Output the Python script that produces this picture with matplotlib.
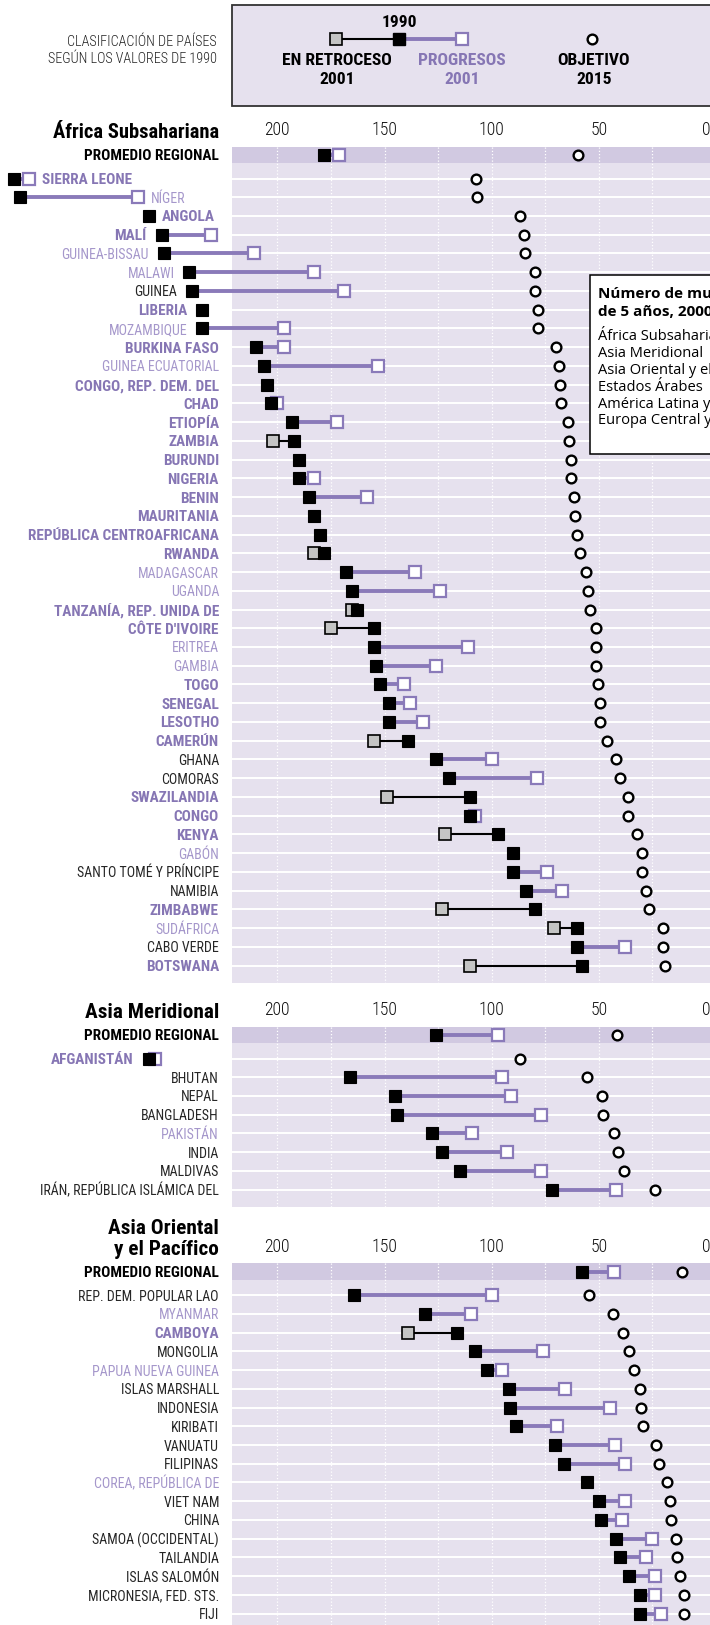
import matplotlib
matplotlib.use("Agg")
import matplotlib.pyplot as plt
from matplotlib import font_manager as fm
from matplotlib.patches import Rectangle

# ---------------- DATA ----------------
ssa_names = ["SIERRA LEONE", "NÍGER", "ANGOLA", "MALÍ", "GUINEA-BISSAU", "MALAWI", "GUINEA",
             "LIBERIA", "MOZAMBIQUE", "BURKINA FASO", "GUINEA ECUATORIAL", "CONGO, REP. DEM. DEL",
             "CHAD", "ETIOPÍA", "ZAMBIA", "BURUNDI", "NIGERIA", "BENIN", "MAURITANIA",
             "REPÚBLICA CENTROAFRICANA", "RWANDA", "MADAGASCAR", "UGANDA", "TANZANÍA, REP. UNIDA DE",
             "CÔTE D'IVOIRE", "ERITREA", "GAMBIA", "TOGO", "SENEGAL", "LESOTHO", "CAMERÚN", "GHANA",
             "COMORAS", "SWAZILANDIA", "CONGO", "KENYA", "GABÓN", "SANTO TOMÉ Y PRÍNCIPE", "NAMIBIA",
             "ZIMBABWE", "SUDÁFRICA", "CABO VERDE", "BOTSWANA"]
ssa_1990 = [323, 320, 260, 254, 253, 241, 240, 235, 235, 210, 206, 205, 203, 193, 192, 190, 190, 185,
            183, 180, 178, 168, 165, 163, 155, 155, 154, 152, 148, 148, 139, 126, 120, 110, 110, 97,
            90, 90, 84, 80, 60, 60, 58]
ssa_2001 = [316, 265, 260, 231, 211, 183, 169, 235, 197, 197, 153, 205, 200, 172, 202, 190, 183, 158,
            183, 180, 183, 136, 124, 165, 175, 111, 126, 141, 138, 132, 155, 100, 79, 149, 108, 122,
            90, 74, 67, 123, 71, 38, 110]
ssa_2015 = [107.5, 107, 87, 85, 84.3, 80, 80, 78.3, 78.3, 70, 68.5, 68, 67.7, 64.3, 64, 63.2, 63, 61.5,
            61, 60, 59, 56, 55, 54.2, 51.5, 51.5, 51.2, 50.5, 49.3, 49.3, 46.2, 42, 40, 36.6, 36.6,
            32.2, 30, 30, 28, 26.5, 20, 20, 19.3]
ssa_class = ["bp", "lp", "bp", "bp", "lp", "lp", "k", "bp", "lp", "bp", "lp", "bp", "bp", "bp", "bp",
             "bp", "bp", "bp", "bp", "bp", "bp", "lp", "lp", "bp", "bp", "lp", "lp", "bp", "bp", "bp",
             "bp", "k", "k", "bp", "bp", "bp", "lp", "k", "k", "bp", "lp", "k", "bp"]
ssa_avg = [178, 171, 59.5]

sa_names = ["AFGANISTÁN", "BHUTAN", "NEPAL", "BANGLADESH", "PAKISTÁN", "INDIA", "MALDIVAS",
            "IRÁN, REPÚBLICA ISLÁMICA DEL"]
sa_1990 = [260, 166, 145, 144, 128, 123, 115, 72]
sa_2001 = [257, 95, 91, 77, 109, 93, 77, 42]
sa_2015 = [86.8, 55.3, 48.3, 48, 42.8, 41, 38.2, 24]
sa_class = ["bp", "k", "k", "k", "lp", "k", "k", "k"]
sa_avg = [126, 97, 41.5]

eap_names = ["REP. DEM. POPULAR LAO", "MYANMAR", "CAMBOYA", "MONGOLIA", "PAPUA NUEVA GUINEA",
             "ISLAS MARSHALL", "INDONESIA", "KIRIBATI", "VANUATU", "FILIPINAS", "COREA, REPÚBLICA DE",
             "VIET NAM", "CHINA", "SAMOA (OCCIDENTAL)", "TAILANDIA", "ISLAS SALOMÓN",
             "MICRONESIA, FED. STS.", "FIJI"]
eap_1990 = [164, 131, 116, 108, 102, 92, 91.6, 88.7, 70.5, 66.3, 55.3, 50, 49, 42, 40, 36, 31, 31]
eap_2001 = [100, 109.6, 139, 76, 95, 66, 45, 69.3, 42.4, 38, 55.3, 38, 39, 25, 28, 24, 24, 21]
eap_2015 = [54.7, 43.5, 38.5, 36, 33.5, 30.8, 30.4, 29.3, 23.4, 22, 18.3, 16.6, 16.4, 14, 13.3, 12,
            10.3, 10.3]
eap_class = ["k", "lp", "bp", "k", "lp", "k", "k", "k", "k", "k", "lp", "k", "k", "k", "k", "k", "k", "k"]
eap_avg = [58, 43, 11.4]

tick_vals = [200, 150, 100, 50, 0]
tick_labels = ["200", "150", "100", "50", "0"]
box_items = ["África Subsahariana", "Asia Meridional", "Asia Oriental y el Pacífico",
             "Estados Árabes", "América Latina y el Caribe", "Europa Central y Oriental"]

# ---------------- STYLE ----------------
W, H, DPI = 710, 1625, 100
BG = "#e6e1ee"
BAND = "#d1c9e1"
PURPLE = "#8a7ab9"
TXT_BP = "#8676b4"
TXT_LP = "#a597cb"
TXT_K = "#262626"
GRAY = "#c4c4c4"

fam_names = {e.name for e in fm.fontManager.ttflist}
FONT = "DejaVu Sans"
for cand in ["Roboto Condensed", "Liberation Sans Narrow", "Open Sans Condensed",
             "Noto Sans Condensed", "DejaVu Sans Condensed"]:
    if cand in fam_names:
        FONT = cand
        break
plt.rcParams["font.family"] = [FONT, "DejaVu Sans"]

XL, XR = 329.4, -1.87          # data value at left / right figure edge
BG_LEFT = 221.2                # value where shaded plot area starts
ROW0, ROWH, BAND_H = 31.8, 18.74, 16.6
LABEL_X = 219                  # px, right edge of labels
FS_LBL = 10.0
FS_BOLD = 11.0

fig = plt.figure(figsize=(W / DPI, H / DPI), dpi=DPI)

RIGHT_SIDE = {"SIERRA LEONE", "NÍGER", "ANGOLA"}


def region(top_px, names, v90, v01, v15, cls, avg, heading, head_fs):
    n = len(names)
    height = ROW0 + (n - 1) * ROWH + 17
    ax = fig.add_axes([0, 1 - (top_px + height) / H, 1, height / H])
    ax.set_xlim(XL, XR)
    ax.set_ylim(height, 0)
    for s in ax.spines.values():
        s.set_visible(False)
    ax.set_yticks([])
    ax.set_xticks(tick_vals)
    ax.set_xticklabels(tick_labels, fontweight="light")
    ax.xaxis.set_ticks_position("top")
    ax.tick_params(axis="x", length=0, pad=5.5, labelsize=12.8, labelcolor="#111111")
    ax.patch.set_alpha(0)
    # backgrounds
    ax.add_patch(Rectangle((BG_LEFT, BAND_H), XR - BG_LEFT, height - BAND_H, fc=BG, ec="none", zorder=0))
    ax.add_patch(Rectangle((BG_LEFT, 0), XR - BG_LEFT, BAND_H, fc=BAND, ec="none", zorder=0))
    for g in range(25, 201, 25):
        ax.plot([g, g], [0, height], color="white", lw=0.9, ls=(0, (1, 1.6)), zorder=1)
    ys = [ROW0 + i * ROWH for i in range(n)]
    for y in ys:
        ax.plot([BG_LEFT, XR], [y, y], color="white", lw=1.4, zorder=1)

    def pair(y, a, b, t):
        if b < a:
            ax.plot([a, b], [y, y], color=PURPLE, lw=2.8, zorder=2, solid_capstyle="butt")
            ax.plot([b], [y], marker="s", ms=8, mfc="white", mec=PURPLE, mew=1.6, zorder=3, clip_on=False)
        elif b > a:
            ax.plot([a, b], [y, y], color="black", lw=1.5, zorder=2)
            ax.plot([b], [y], marker="s", ms=8, mfc=GRAY, mec="black", mew=1.2, zorder=3, clip_on=False)
        ax.plot([a], [y], marker="s", ms=8, mfc="black", mec="black", mew=0.8, zorder=4, clip_on=False)
        ax.plot([t], [y], marker="o", ms=7, mfc="white", mec="black", mew=1.7, zorder=4, clip_on=False)

    pair(BAND_H / 2, avg[0], avg[1], avg[2])
    ax.annotate("PROMEDIO REGIONAL", xy=(LABEL_X, BAND_H / 2), xycoords=("figure pixels", "data"),
                ha="right", va="center_baseline", fontsize=FS_BOLD, fontweight="bold", color="black")
    for i, nm in enumerate(names):
        y = ys[i]
        pair(y, v90[i], v01[i], v15[i])
        c = cls[i]
        color = {"bp": TXT_BP, "lp": TXT_LP, "k": TXT_K}[c]
        weight = "bold" if c == "bp" else "normal"
        fs = FS_BOLD if c == "bp" else FS_LBL
        hi = max(v90[i], v01[i])
        lo = min(v90[i], v01[i])
        px_hi = ax.transData.transform((hi, 0))[0]
        if px_hi - 7 < LABEL_X + 8:
            if nm in RIGHT_SIDE:
                ax.annotate(nm, xy=(lo, y), xytext=(13, 0), textcoords="offset pixels", ha="left",
                            va="center_baseline", fontsize=fs, fontweight=weight, color=color)
            else:
                ax.annotate(nm, xy=(hi, y), xytext=(-15, 0), textcoords="offset pixels", ha="right",
                            va="center_baseline", fontsize=fs, fontweight=weight, color=color)
        else:
            ax.annotate(nm, xy=(LABEL_X, y), xycoords=("figure pixels", "data"), ha="right",
                        va="center_baseline", fontsize=fs, fontweight=weight, color=color)
    # heading
    for k, line in enumerate(heading[::-1]):
        fig.text(LABEL_X / W, 1 - (top_px - 16 - k * 20.5) / H, line, ha="right", va="center_baseline",
                 fontsize=head_fs, fontweight="bold", color="black")
    return ax


region(146.7, ssa_names, ssa_1990, ssa_2001, ssa_2015, ssa_class, ssa_avg, ["África Subsahariana"], 14.8)
region(1026.7, sa_names, sa_1990, sa_2001, sa_2015, sa_class, sa_avg, ["Asia Meridional"], 15.3)
region(1263.3, eap_names, eap_1990, eap_2001, eap_2015, eap_class, eap_avg,
       ["Asia Oriental", "y el Pacífico"], 15.3)

# ---------------- overlay (header + info box) ----------------
ov = fig.add_axes([0, 0, 1, 1])
ov.set_xlim(0, W)
ov.set_ylim(H, 0)
ov.axis("off")
ov.patch.set_alpha(0)
ov.add_patch(Rectangle((232, 4.5), 500, 101.5, fc=BG, ec="#333333", lw=1.3, zorder=1))
ov.text(217, 41, "CLASIFICACIÓN DE PAÍSES", ha="right", va="center_baseline", fontsize=10.2,
        fontweight="light", color="#222")
ov.text(217, 57.5, "SEGÚN LOS VALORES DE 1990", ha="right", va="center_baseline", fontsize=10.2,
        fontweight="light", color="#222")
ov.plot([336, 399], [38.5, 38.5], color="black", lw=1.5, zorder=2)
ov.plot([399, 462], [38.5, 38.5], color=PURPLE, lw=2.8, zorder=2)
ov.plot([336], [38.5], marker="s", ms=8, mfc=GRAY, mec="black", mew=1.2, zorder=3)
ov.plot([462], [38.5], marker="s", ms=8, mfc="white", mec=PURPLE, mew=1.6, zorder=3)
ov.plot([399], [38.5], marker="s", ms=8, mfc="black", mec="black", zorder=4)
ov.plot([592], [38.5], marker="o", ms=7, mfc="white", mec="black", mew=1.7, zorder=4)
HFS = 12.6
ov.text(399, 21, "1990", ha="center", va="center_baseline", fontsize=HFS, fontweight="bold")
ov.text(337, 59, "EN RETROCESO", ha="center", va="center_baseline", fontsize=HFS, fontweight="bold")
ov.text(337, 77.5, "2001", ha="center", va="center_baseline", fontsize=HFS, fontweight="bold")
ov.text(462, 59, "PROGRESOS", ha="center", va="center_baseline", fontsize=HFS, fontweight="bold", color=TXT_BP)
ov.text(462, 77.5, "2001", ha="center", va="center_baseline", fontsize=HFS, fontweight="bold", color=TXT_BP)
ov.text(594, 59, "OBJETIVO", ha="center", va="center_baseline", fontsize=HFS, fontweight="bold")
ov.text(594, 77.5, "2015", ha="center", va="center_baseline", fontsize=HFS, fontweight="bold")

ov.add_patch(Rectangle((590, 275), 200, 179, fc="white", ec="black", lw=1.1, zorder=5))
ov.text(598, 292, "Número de muertes de niños menores", ha="left", va="center_baseline", fontsize=11,
        fontweight="bold", family=["Open Sans", "DejaVu Sans"], zorder=6)
ov.text(598, 311, "de 5 años, 2000", ha="left", va="center_baseline", fontsize=11,
        fontweight="bold", family=["Open Sans", "DejaVu Sans"], zorder=6)
for k, it in enumerate(box_items):
    ov.text(598, 335 + k * 16.8, it, ha="left", va="center_baseline", fontsize=10.5,
            family=["Open Sans", "DejaVu Sans"], zorder=6)

fig.savefig("out.png", dpi=DPI)
